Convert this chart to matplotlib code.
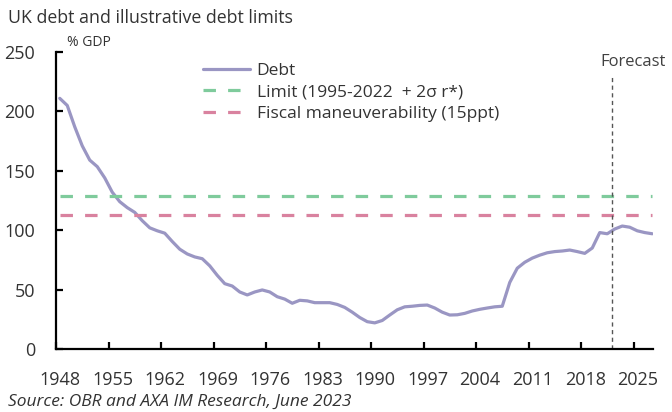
import matplotlib.pyplot as plt
from matplotlib.transforms import ScaledTranslation

# Datos (% del PIB), un valor por año
years = list(range(1948, 2028))
debt = [211, 205, 187, 171, 159, 153.5, 144, 132, 124, 119,
        115, 108, 102, 99.5, 97.5, 90.5, 84, 80, 77.5, 76,
        70, 62, 55, 53, 48, 45.5, 48, 49.7, 48, 44,
        42, 38.5, 41, 40.5, 39, 39, 39, 37.5, 35, 31,
        26.5, 23, 22, 24, 28.6, 33, 35.5, 36, 36.7, 37,
        34.5, 31, 28.6, 28.8, 30, 32, 33.4, 34.5, 35.5, 36,
        56, 68, 73, 76.5, 79, 81, 82, 82.5, 83.3, 82,
        80.5, 85, 98, 97, 101, 103.5, 102.5, 99.5, 98, 97]
limit = 128.8
fiscal = 113
forecast_year = 2022.1
tick_years = [1948, 1955, 1962, 1969, 1976, 1983, 1990, 1997, 2004, 2011, 2018, 2025]

plt.rcParams['font.family'] = ['Open Sans', 'DejaVu Sans']

fig = plt.figure(figsize=(6.72, 4.12), dpi=100)
ax = fig.add_axes([56 / 672, 1 - 349 / 412, 597 / 672, 297 / 412])

x = [y + 0.5 for y in years]
ax.plot(x, debt, color='#9a96c3', lw=2.3, label='Debt', solid_capstyle='round')
ax.plot([x[0], x[-1]], [limit, limit], color='#7fcb9c', lw=2.3,
        linestyle=(0, (3.9, 3.8)), label='Limit (1995-2022  + 2σ r*)')
ax.plot([x[0], x[-1]], [fiscal, fiscal], color='#d9829f', lw=2.3,
        linestyle=(0, (3.9, 3.8)), label='Fiscal maneuverability (15ppt)')

# Línea de previsión
ax.plot([forecast_year, forecast_year], [0, 229], color='#555555', lw=1.0,
        linestyle=(0, (3, 2.5)), clip_on=False)
ax.text(forecast_year + 2.9, 235, 'Forecast', ha='center', va='bottom',
        fontsize=12, color='#404040')

ax.set_xlim(1948, 2027.6)
ax.set_ylim(0, 250)
ax.set_xticks(tick_years)
ax.set_xticklabels([str(t) for t in tick_years])
ax.set_yticks([0, 50, 100, 150, 200, 250])

for s in ['top', 'right']:
    ax.spines[s].set_visible(False)
for s in ['left', 'bottom']:
    ax.spines[s].set_linewidth(1.6)
    ax.spines[s].set_color('black')

ax.tick_params(axis='both', direction='in', length=5, width=1.6, labelsize=13,
               labelcolor='#333333')
ax.tick_params(axis='y', pad=15)
ax.tick_params(axis='x', pad=16)
for lbl in ax.get_xticklabels():
    lbl.set_transform(lbl.get_transform() + ScaledTranslation(3 / 72, 0, fig.dpi_scale_trans))

ax.text(1949.5, 252, '% GDP', ha='left', va='bottom', fontsize=10, color='#333333')

leg = ax.legend(loc='upper left', bbox_to_anchor=(0.246, 0.963), frameon=False,
                fontsize=12.5, handlelength=2.7, handletextpad=0.4, labelspacing=0.3,
                borderaxespad=0, borderpad=0)
for t in leg.get_texts():
    t.set_color('#333333')

fig.text(8 / 672, 1 - 18 / 412, 'UK debt and illustrative debt limits', ha='left',
         va='center', fontsize=12.8, color='#333333')
fig.text(8 / 672, 1 - 402 / 412, 'Source: OBR and AXA IM Research, June 2023', ha='left',
         va='center', fontsize=12.5, style='italic', color='#333333')

fig.savefig('out.png', dpi=100)
